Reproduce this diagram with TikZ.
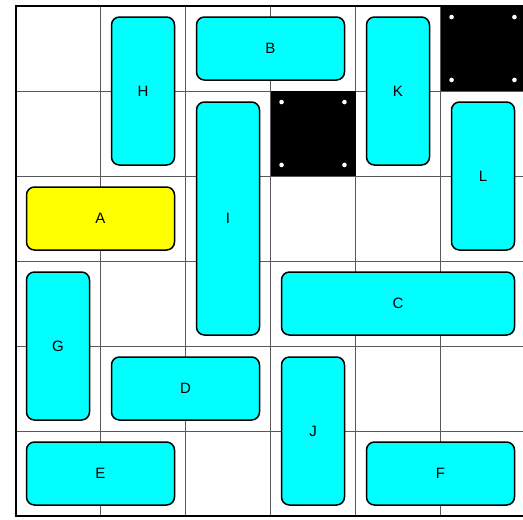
\documentclass[tikz,border=0pt]{standalone}
\usepackage{fontspec}
\setmainfont{Liberation Sans}
\definecolor{aqua}{RGB}{0,255,255}
\definecolor{goldy}{RGB}{255,255,0}
\begin{document}
\begin{tikzpicture}[x=1pt,y=-1pt,
  blk/.style={draw=black,line width=1.5pt,rounded corners=8pt,fill=aqua,
    font=\fontsize{15}{17}\selectfont,inner sep=0pt},
  hblk/.style={blk,minimum width=148pt,minimum height=63pt},
  vblk/.style={blk,minimum width=63pt,minimum height=148pt},
  gridline/.style={draw=black!65,line width=0.8pt},
  wall/.style={fill=black},
  rivet/.style={fill=white}]
\useasboundingbox (0,0) rectangle (523,520);
\fill[white] (0,0) rectangle (523,520);
\clip (0,0) rectangle (523,520);
\begin{scope}[shift={(15.5,6)},x=85pt,y=-85pt]
  \foreach \i in {1,...,5} {
    \draw[gridline] (\i,0) -- (\i,6);
    \draw[gridline] (0,\i) -- (6,\i);
  }
  \fill[wall] (3,1) rectangle (4,2);
  \fill[wall] (5,0) rectangle (6,1);
  \foreach \cx/\cy in {3/1,5/0} {
    \foreach \dx in {0.13,0.87} {
      \foreach \dy in {0.13,0.87} {
        \fill[rivet] (\cx+\dx,\cy+\dy) circle (2.3pt);
      }
    }
  }
  \draw[black,line width=2pt] (0,0) rectangle (6,6);
  \node[vblk] (H) at (1.5,1.0) {H};
  \node[hblk] (B) at (3.0,0.5) {B};
  \node[vblk] (K) at (4.5,1.0) {K};
  \node[vblk] (L) at (5.5,2.0) {L};
  \node[hblk,fill=goldy] (A) at (1.0,2.5) {A};
  \node[blk,minimum width=63pt,minimum height=233pt] (I) at (2.5,2.5) {I};
  \node[blk,minimum width=233pt,minimum height=63pt] (C) at (4.5,3.5) {C};
  \node[vblk] (G) at (0.5,4.0) {G};
  \node[hblk] (D) at (2.0,4.5) {D};
  \node[vblk] (J) at (3.5,5.0) {J};
  \node[hblk] (E) at (1.0,5.5) {E};
  \node[hblk] (F) at (5.0,5.5) {F};
\end{scope}
\end{tikzpicture}
\end{document}
